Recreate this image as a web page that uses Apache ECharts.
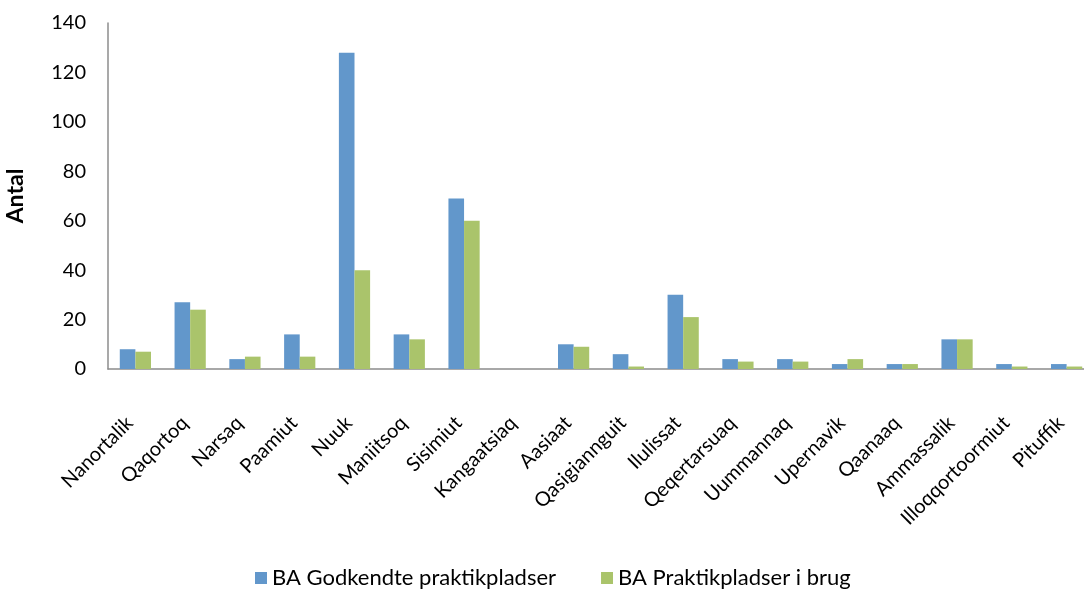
<!DOCTYPE html>
<html>
<head>
<meta charset="utf-8">
<script src="https://cdn.jsdelivr.net/npm/echarts@6/dist/echarts.min.js"></script>
<style>
  html, body { margin: 0; padding: 0; background: #fff; overflow: hidden; }
  #chart { width: 1094px; height: 590px; }
</style>
</head>
<body>
<div id="chart"></div>
<script>
// Towns
const towns = ['Nanortalik', 'Qaqortoq', 'Narsaq', 'Paamiut', 'Nuuk', 'Maniitsoq', 'Sisimiut',
  'Kangaatsiaq', 'Aasiaat', 'Qasigiannguit', 'Ilulissat', 'Qeqertarsuaq', 'Uummannaq',
  'Upernavik', 'Qaanaaq', 'Ammassalik', 'Illoqqortoormiut', 'Pituffik'];

// Approved internship places
const godkendte = [8, 27, 4, 14, 128, 14, 69, 0, 10, 6, 30, 4, 4, 2, 2, 12, 2, 2];
// Internship places in use
const iBrug = [7, 24, 5, 5, 40, 12, 60, 0, 9, 1, 21, 3, 3, 4, 2, 12, 1, 1];

const seriesNames = ['BA Godkendte praktikpladser', 'BA Praktikpladser i brug'];
const yTicks = { min: 0, max: 140, interval: 20 };

const font = 'Lato, "Open Sans", sans-serif';
const chart = echarts.init(document.getElementById('chart'));

chart.setOption({
  animation: false,
  textStyle: { fontFamily: font },
  grid: { left: 108, right: 0, top: 23, bottom: 221, containLabel: false, outerBoundsMode: 'none' },
  legend: {
    top: 562,
    left: 250,
    itemWidth: 12,
    itemHeight: 12,
    itemGap: 45,
    icon: 'rect',
    textStyle: { fontFamily: font, fontSize: 22, color: '#000' },
    data: seriesNames
  },
  xAxis: {
    type: 'category',
    data: towns,
    axisLine: { lineStyle: { color: '#8c8c8c', width: 1.5 } },
    axisTick: { show: false },
    axisLabel: {
      rotate: 45, color: '#000', fontSize: 20, fontFamily: font, interval: 0,
      margin: 45, padding: [0, 8, 0, 0]
    }
  },
  yAxis: {
    type: 'value',
    min: yTicks.min, max: yTicks.max, interval: yTicks.interval,
    name: 'Antal',
    nameLocation: 'middle',
    nameGap: 81,
    nameRotate: 90,
    nameTextStyle: { fontWeight: 'bold', fontSize: 23, color: '#000', fontFamily: font },
    axisLine: { show: true, lineStyle: { color: '#8c8c8c', width: 1.5 } },
    axisTick: { show: false },
    splitLine: { show: false },
    axisLabel: { color: '#000', fontSize: 20, fontFamily: font, margin: 22 }
  },
  series: [
    {
      name: seriesNames[0], type: 'bar', data: godkendte,
      barGap: '0%', barCategoryGap: '43%',
      itemStyle: { color: '#6297CB' }
    },
    {
      name: seriesNames[1], type: 'bar', data: iBrug,
      barGap: '0%', barCategoryGap: '43%',
      itemStyle: { color: '#AAC46B' }
    }
  ]
});
</script>
</body>
</html>
